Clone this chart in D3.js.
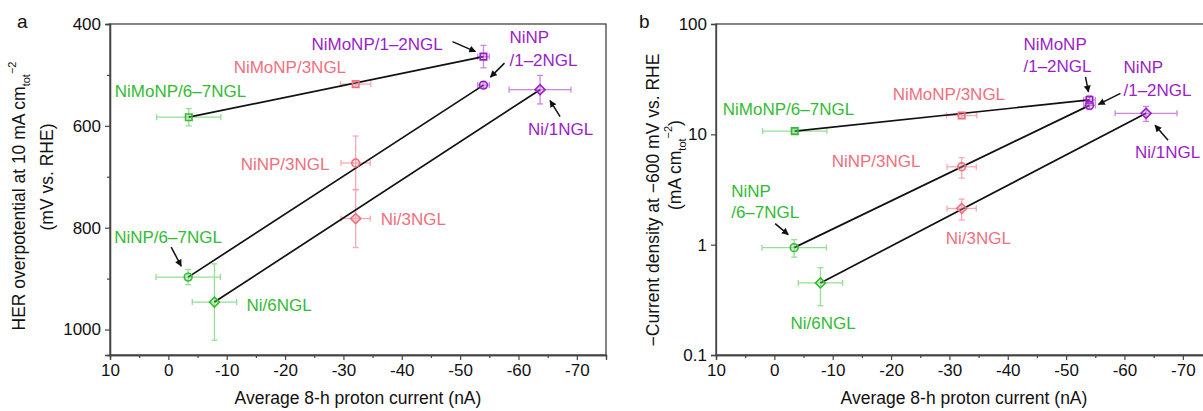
<!DOCTYPE html>
<html lang="en">
<head>
<meta charset="UTF-8">
<title>HER vs proton current</title>
<style>
  * { margin: 0; padding: 0; }
  html, body { overflow: hidden; background: #fff; }
  text { font-family: "Liberation Sans", Arial, sans-serif; }
</style>
</head>
<body>
<div id="chart"></div>
<script src="https://cdn.jsdelivr.net/npm/d3@7"></script>
<script>
// data
const samples = ['NiMoNP/6–7NGL', 'NiMoNP/3NGL', 'NiMoNP/1–2NGL', 'NiNP/6–7NGL', 'NiNP/3NGL', 'NiNP/1–2NGL', 'Ni/6NGL', 'Ni/3NGL', 'Ni/1NGL']
const layers = ['6–7', '3', '1–2', '6–7', '3', '1–2', '6–7', '3', '1–2']
const shapes = ['square', 'square', 'square', 'circle', 'circle', 'circle', 'diamond', 'diamond', 'diamond']
const protonCurrent = [-3.5, -32.1, -54, -3.4, -32.1, -54, -7.9, -32.1, -63.7]
const protonErr = [5.5, 2.6, 1, 5.5, 2.5, 1, 3.8, 2.5, 5.3]
const overpotential = [583, 518, 464, 897, 673, 520, 946, 782, 529]
const overpotentialErr = [17, 6, 22, 15, 53, 6, 75, 57, 28]
const currentDensity = [10.7, 14.8, 20.5, 0.94, 5.08, 18.3, 0.45, 2.13, 15.5]
const currentDensityErr = [0.5, 0.8, 2, 0.17, 1.07, 1.5, 0.17, 0.46, 2.4]
const links = [[0, 2], [3, 5], [6, 8]]

const xTicks = [10, 0, -10, -20, -30, -40, -50, -60, -70]
const xMinor = [5, -5, -15, -25, -35, -45, -55, -65]
const yTicksA = [400, 600, 800, 1000]
const yMinorA = [500, 700, 900]
const yTicksB = [0.1, 1, 10, 100]

const textColor = { '6–7': '#33bb33', '3': '#f0707e', '1–2': '#9a1ec8' }
const barColor = { '6–7': '#93df93', '3': '#f7aab3', '1–2': '#cb85e6' }

// label offsets (px from point): dx, dy per line, arrow [x1,y1,x2,y2] relative
const labelsA = [
  { i: 0, dx: -74, dy: [-20], lines: ['NiMoNP/6–7NGL'] },
  { i: 1, dx: -122, dy: [-11], lines: ['NiMoNP/3NGL'] },
  { i: 2, dx: -172, dy: [-7], lines: ['NiMoNP/1–2NGL'], arrow: [-31, -15, -8, -5] },
  { i: 3, dx: -74, dy: [-34], lines: ['NiNP/6–7NGL'], arrow: [-17, -30, -7, -11] },
  { i: 4, dx: -115, dy: [7], lines: ['NiNP/3NGL'] },
  { i: 5, dx: 26, dy: [-42, -19], lines: ['NiNP', '/1–2NGL'], arrow: [21, -22, 7, -8] },
  { i: 6, dx: 32, dy: [9], lines: ['Ni/6NGL'] },
  { i: 7, dx: 25, dy: [6], lines: ['Ni/3NGL'] },
  { i: 8, dx: -12, dy: [45], lines: ['Ni/1NGL'], arrow: [20, 27, 10, 11] }
]
const labelsB = [
  { i: 0, dx: -72, dy: [-16], lines: ['NiMoNP/6–7NGL'] },
  { i: 1, dx: -69, dy: [-16], lines: ['NiMoNP/3NGL'] },
  { i: 2, dx: -66, dy: [-50, -28], lines: ['NiMoNP', '/1–2NGL'], arrow: [-4, -23, -1, -8] },
  { i: 3, dx: -63, dy: [-51, -30], lines: ['NiNP', '/6–7NGL'], arrow: [-19, -24, -6, -13] },
  { i: 4, dx: -130, dy: [0], lines: ['NiNP/3NGL'] },
  { i: 5, dx: 34, dy: [-32, -9], lines: ['NiNP', '/1–2NGL'], arrow: [31, -12, 9, -1] },
  { i: 6, dx: -30, dy: [46], lines: ['Ni/6NGL'] },
  { i: 7, dx: -16, dy: [36], lines: ['Ni/3NGL'] },
  { i: 8, dx: -11, dy: [45], lines: ['Ni/1NGL'], arrow: [22, 27, 9, 12] }
]

const width = 1203
const height = 411
const svg = d3.select('#chart').append('svg')
  .attr('width', width).attr('height', height)

svg.append('defs').append('marker')
  .attr('id', 'head').attr('viewBox', '0 0 10 10')
  .attr('refX', 9).attr('refY', 5)
  .attr('markerWidth', 7).attr('markerHeight', 7)
  .attr('markerUnits', 'userSpaceOnUse')
  .attr('orient', 'auto')
  .append('path').attr('d', 'M0,0 L10,5 L0,10 z').attr('fill', '#111')

function drawPanel(opt) {
  const x = d3.scaleLinear().domain([10, -75]).range([opt.left, opt.left + 496])
  const y = opt.y
  const g = svg.append('g')
  const top = 24, bottom = 355

  // frame
  g.append('rect').attr('x', opt.left).attr('y', top)
    .attr('width', 496).attr('height', bottom - top)
    .attr('fill', 'none').attr('stroke', '#444').attr('stroke-width', 1.3)

  g.append('g').attr('transform', `translate(0,${bottom})`)
    .call(d3.axisBottom(x).tickValues(xMinor).tickSize(3).tickFormat(''))
  g.append('g').attr('transform', `translate(0,${bottom})`)
    .call(d3.axisBottom(x).tickValues(xTicks).tickFormat(d => String(d)).tickSize(5).tickPadding(4))
  if (opt.yMinor) {
    g.append('g').attr('transform', `translate(${opt.left},0)`)
      .call(d3.axisLeft(y).tickValues(opt.yMinor).tickSize(3).tickFormat(''))
  }
  g.append('g').attr('transform', `translate(${opt.left},0)`)
    .call(d3.axisLeft(y).tickValues(opt.yTicks).tickFormat(opt.yFormat).tickSize(5).tickPadding(4))
  g.selectAll('.domain').attr('stroke', '#444').attr('stroke-width', 1.3)
  g.selectAll('.tick line').attr('stroke', '#444').attr('stroke-width', 1.2)
  g.selectAll('.tick text').attr('font-size', 17).attr('fill', '#111')
    .style('font-family', '"Liberation Sans", Arial, sans-serif')

  const val = opt.values, err = opt.errs
  const idx = d3.range(samples.length)

  // error bars
  const eb = g.append('g').selectAll('g').data(idx).join('g')
    .attr('stroke', i => barColor[layers[i]]).attr('stroke-width', 1.3).attr('fill', 'none')
  eb.append('line')
    .attr('x1', i => x(protonCurrent[i] - protonErr[i])).attr('x2', i => x(protonCurrent[i] + protonErr[i]))
    .attr('y1', i => y(val[i])).attr('y2', i => y(val[i]))
  eb.append('line')
    .attr('x1', i => x(protonCurrent[i])).attr('x2', i => x(protonCurrent[i]))
    .attr('y1', i => y(val[i] - err[i])).attr('y2', i => y(val[i] + err[i]))
  ;[-1, 1].forEach(s => {
    eb.append('line')
      .attr('x1', i => x(protonCurrent[i] + s * protonErr[i])).attr('x2', i => x(protonCurrent[i] + s * protonErr[i]))
      .attr('y1', i => y(val[i]) - 3).attr('y2', i => y(val[i]) + 3)
    eb.append('line')
      .attr('x1', i => x(protonCurrent[i]) - 3).attr('x2', i => x(protonCurrent[i]) + 3)
      .attr('y1', i => y(val[i] + s * err[i])).attr('y2', i => y(val[i] + s * err[i]))
  })

  // connecting lines
  g.append('g').selectAll('line').data(links).join('line')
    .attr('x1', d => x(protonCurrent[d[0]])).attr('y1', d => y(val[d[0]]))
    .attr('x2', d => x(protonCurrent[d[1]])).attr('y2', d => y(val[d[1]]))
    .attr('stroke', '#111').attr('stroke-width', 1.7)

  // markers
  const symbols = { square: d3.symbolSquare, circle: d3.symbolCircle, diamond: d3.symbolSquare }
  g.append('g').selectAll('path').data(idx).join('path')
    .attr('d', i => d3.symbol(symbols[shapes[i]], shapes[i] === 'circle' ? 48 : (shapes[i] === 'diamond' ? 50 : 42))())
    .attr('transform', i => `translate(${x(protonCurrent[i])},${y(val[i])}) rotate(${shapes[i] === 'diamond' ? 45 : 0})`)
    .attr('fill', i => barColor[layers[i]]).attr('fill-opacity', 0.35)
    .attr('stroke', i => textColor[layers[i]]).attr('stroke-width', 1.6)

  // labels
  opt.labels.forEach(l => {
    const px = x(protonCurrent[l.i]), py = y(val[l.i])
    l.lines.forEach((t, k) => {
      g.append('text').attr('x', px + l.dx).attr('y', py + l.dy[k])
        .attr('font-size', 17).attr('fill', textColor[layers[l.i]]).text(t)
    })
    if (l.arrow) {
      g.append('line')
        .attr('x1', px + l.arrow[0]).attr('y1', py + l.arrow[1])
        .attr('x2', px + l.arrow[2]).attr('y2', py + l.arrow[3])
        .attr('stroke', '#111').attr('stroke-width', 1.5)
        .attr('marker-end', 'url(#head)')
    }
  })

  // titles
  g.append('text').attr('x', opt.left + 248).attr('y', 404).attr('text-anchor', 'middle')
    .attr('font-size', 17.5).attr('fill', '#111').text('Average 8-h proton current (nA)')
  g.append('text').attr('x', opt.letterX).attr('y', 28).attr('font-size', 19).attr('fill', '#111').text(opt.letter)

  const t1 = g.append('text').attr('transform', `translate(${opt.t1[0]},${opt.t1[1]}) rotate(-90)`)
    .attr('text-anchor', 'middle').attr('font-size', 17.5).attr('fill', '#111')
  opt.title1(t1)
  const t2 = g.append('text').attr('transform', `translate(${opt.t2[0]},${opt.t2[1]}) rotate(-90)`)
    .attr('text-anchor', 'middle').attr('font-size', 17.5).attr('fill', '#111')
  opt.title2(t2)
}

function cmTot(t, before, after) {
  t.append('tspan').text(before + 'cm')
  t.append('tspan').attr('font-size', 11).attr('dy', 5).text('tot')
  t.append('tspan').attr('font-size', 11).attr('dy', -14).text('−2')
  t.append('tspan').attr('dy', 9).text(after)
}

drawPanel({
  left: 110,
  y: d3.scaleLinear().domain([400, 1050]).range([24, 355]),
  yTicks: yTicksA,
  yMinor: yMinorA,
  yFormat: d3.format('d'),
  values: overpotential,
  errs: overpotentialErr,
  labels: labelsA,
  letter: 'a', letterX: 17,
  t1: [25, 196], t2: [53, 177],
  title1: t => cmTot(t, 'HER overpotential at 10 mA ', ''),
  title2: t => t.text('(mV vs. RHE)')
})

drawPanel({
  left: 716,
  y: d3.scaleLog().domain([0.1, 100]).range([355, 24]),
  yTicks: yTicksB,
  yMinor: null,
  yFormat: d => String(d),
  values: currentDensity,
  errs: currentDensityErr,
  labels: labelsB,
  letter: 'b', letterX: 639,
  t1: [659, 200], t2: [681, 165],
  title1: t => t.text('−Current density at −600 mV vs. RHE'),
  title2: t => cmTot(t, '(mA ', ')')
})
</script>
</body>
</html>
